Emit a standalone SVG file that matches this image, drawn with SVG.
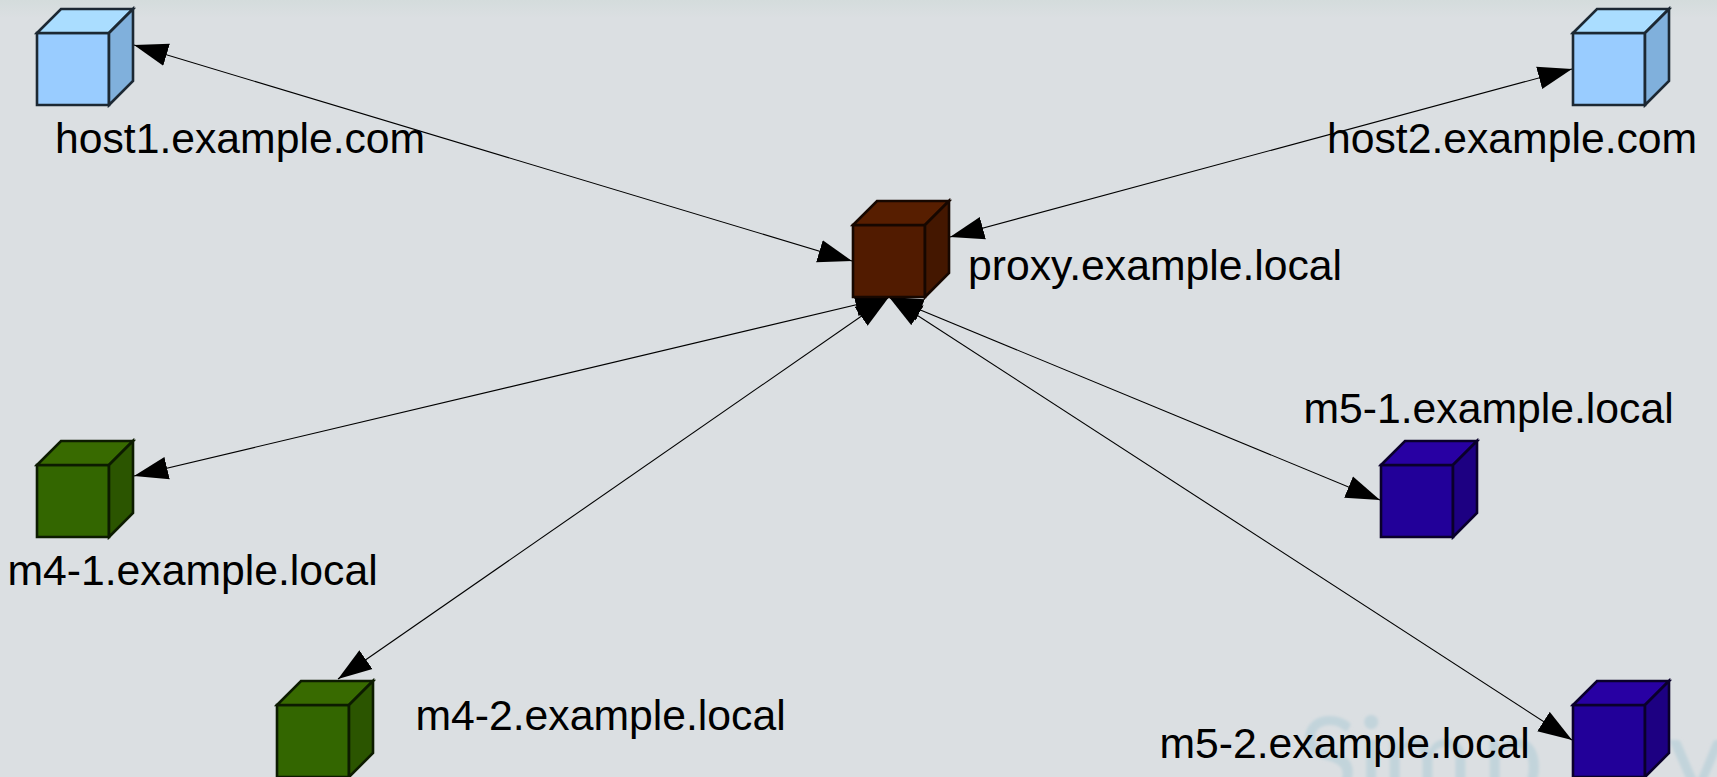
<svg xmlns="http://www.w3.org/2000/svg" width="1717" height="777" viewBox="0 0 1717 777">
<style>
.lbl{font-family:"Liberation Sans",Arial,sans-serif;font-size:42.7px;fill:#000}
.wm{font-family:"Lato","Liberation Sans",sans-serif;font-size:110px;fill:#c2d4db}
.c{stroke-width:2.6;stroke-linejoin:miter}
.lb .f{fill:#99ccff}.lb .t{fill:#aaddff}.lb .s{fill:#80b0dc}.lb path{stroke:#1c2833}
.gr .f{fill:#336600}.gr .t{fill:#386a00}.gr .s{fill:#2b5500}.gr path{stroke:#0c1b00}
.bl .f{fill:#220099}.bl .t{fill:#2800a3}.bl .s{fill:#1d0082}.bl path{stroke:#0a002b}
.br .f{fill:#511b00}.br .t{fill:#571e00}.br .s{fill:#441700}.br path{stroke:#160700}
#edges line{stroke:#000;stroke-width:1.1;marker-start:url(#a);marker-end:url(#a)}
</style>
<defs>
<marker id="a" markerUnits="userSpaceOnUse" markerWidth="36" markerHeight="26" refX="34" refY="12" orient="auto-start-reverse"><path d="M0,0.5L34,12L0,23.5z" fill="#000"/></marker>
<linearGradient id="band" x1="0" y1="0" x2="0" y2="1"><stop offset="0" stop-color="#d4dcdc"/><stop offset="1" stop-color="#dbdfe2"/></linearGradient>
<filter id="soft" x="-5%" y="-5%" width="110%" height="110%"><feGaussianBlur stdDeviation="1.4"/></filter>
</defs>
<rect width="1717" height="777" fill="#dbdfe2"/>
<rect width="1717" height="18" fill="url(#band)"/>
<text class="wm" x="1298 1358 1382 1482 1590 1668" y="796" filter="url(#soft)">Simply</text>
<g id="edges">
<line x1="134" y1="45" x2="852" y2="261"/>
<line x1="1572" y1="69" x2="950" y2="237"/>
<line x1="134" y1="476" x2="889" y2="297"/>
<line x1="338" y1="679" x2="889" y2="297"/>
<line x1="1380" y1="500" x2="889" y2="297"/>
<line x1="1572" y1="740" x2="889" y2="297"/>
</g>
<g id="host1" class="lb" transform="translate(37,33)"><path class="f c" d="M0,0h72v72h-72z"/><path class="t c" d="M0,0l24,-24h72l-24,24z"/><path class="s c" d="M72,0l24,-24v72l-24,24z"/></g>
<g id="host2" class="lb" transform="translate(1573,33)"><path class="f c" d="M0,0h72v72h-72z"/><path class="t c" d="M0,0l24,-24h72l-24,24z"/><path class="s c" d="M72,0l24,-24v72l-24,24z"/></g>
<g id="proxy" class="br" transform="translate(853,225)"><path class="f c" d="M0,0h72v72h-72z"/><path class="t c" d="M0,0l24,-24h72l-24,24z"/><path class="s c" d="M72,0l24,-24v72l-24,24z"/></g>
<g id="m4-1" class="gr" transform="translate(37,465)"><path class="f c" d="M0,0h72v72h-72z"/><path class="t c" d="M0,0l24,-24h72l-24,24z"/><path class="s c" d="M72,0l24,-24v72l-24,24z"/></g>
<g id="m4-2" class="gr" transform="translate(277,705)"><path class="f c" d="M0,0h72v72h-72z"/><path class="t c" d="M0,0l24,-24h72l-24,24z"/><path class="s c" d="M72,0l24,-24v72l-24,24z"/></g>
<g id="m5-1" class="bl" transform="translate(1381,465)"><path class="f c" d="M0,0h72v72h-72z"/><path class="t c" d="M0,0l24,-24h72l-24,24z"/><path class="s c" d="M72,0l24,-24v72l-24,24z"/></g>
<g id="m5-2" class="bl" transform="translate(1573,705)"><path class="f c" d="M0,0h72v72h-72z"/><path class="t c" d="M0,0l24,-24h72l-24,24z"/><path class="s c" d="M72,0l24,-24v72l-24,24z"/></g>
<g id="labels">
<text class="lbl" x="55" y="153">host1.example.com</text>
<text class="lbl" x="1327" y="153">host2.example.com</text>
<text class="lbl" x="968" y="280">proxy.example.local</text>
<text class="lbl" x="7.5" y="585">m4-1.example.local</text>
<text class="lbl" x="415.5" y="730">m4-2.example.local</text>
<text class="lbl" x="1303.5" y="423">m5-1.example.local</text>
<text class="lbl" x="1159.5" y="758">m5-2.example.local</text>
</g>
</svg>
